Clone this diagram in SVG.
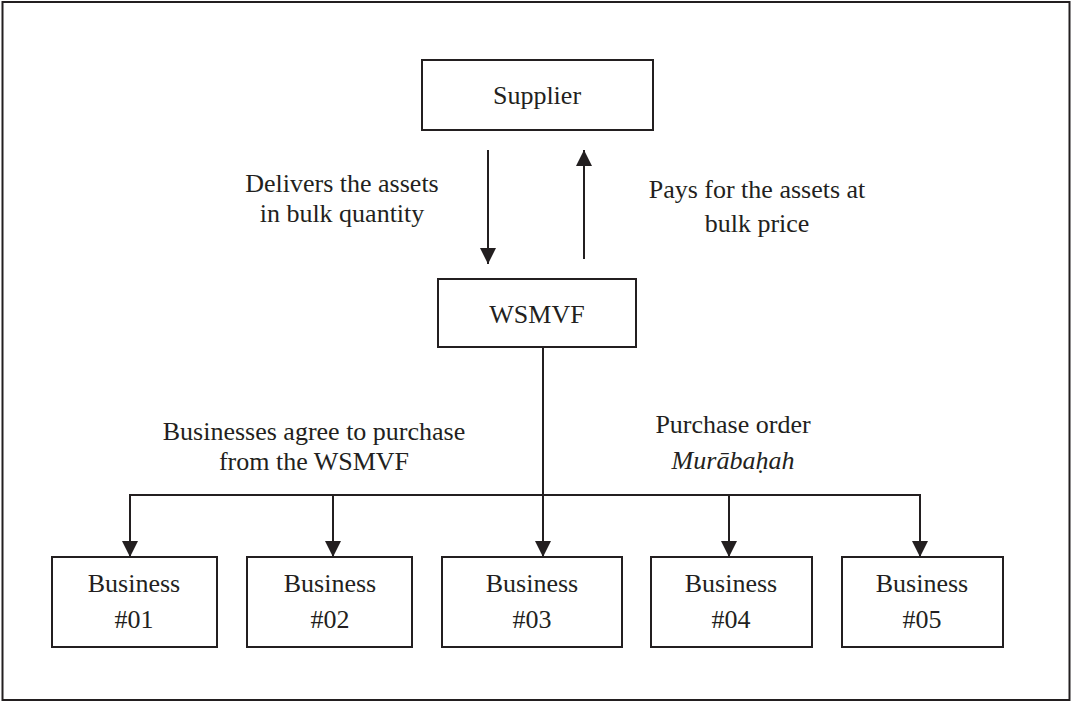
<svg xmlns="http://www.w3.org/2000/svg" width="1072" height="703" viewBox="0 0 1072 703">
  <style>
    .box { fill: #ffffff; stroke: #231f20; stroke-width: 2; }
    .frame { fill: #ffffff; stroke: #231f20; stroke-width: 2; }
    .wire { fill: none; stroke: #231f20; stroke-width: 2; }
    text { font-family: "Liberation Serif", "Times New Roman", serif; font-size: 26px; fill: #231f20; text-anchor: middle; }
    .it { font-style: italic; }
  </style>
  <defs>
    <marker id="head" viewBox="0 0 16 16" refX="16" refY="8" markerWidth="16" markerHeight="16" markerUnits="userSpaceOnUse" orient="auto">
      <path d="M0,0 L16,8 L0,16 Z" fill="#231f20"/>
    </marker>
  </defs>

  <!-- outer border -->
  <rect class="frame" x="2.5" y="2" width="1067" height="698"/>

  <!-- connectors -->
  <g id="connectors">
    <line class="wire" x1="488" y1="150" x2="488" y2="264" marker-end="url(#head)"/>
    <line class="wire" x1="584" y1="259" x2="584" y2="150" marker-end="url(#head)"/>
    <line class="wire" x1="543" y1="347" x2="543" y2="557" marker-end="url(#head)"/>
    <line class="wire" x1="129" y1="495" x2="921" y2="495"/>
    <line class="wire" x1="130" y1="495" x2="130" y2="557" marker-end="url(#head)"/>
    <line class="wire" x1="333" y1="495" x2="333" y2="557" marker-end="url(#head)"/>
    <line class="wire" x1="729" y1="495" x2="729" y2="557" marker-end="url(#head)"/>
    <line class="wire" x1="920" y1="495" x2="920" y2="557" marker-end="url(#head)"/>
  </g>

  <!-- connector labels -->
  <g id="labels">
    <text x="342" y="192">Delivers the assets</text>
    <text x="342" y="222">in bulk quantity</text>
    <text x="757" y="198">Pays for the assets at</text>
    <text x="757" y="232">bulk price</text>
    <text x="314" y="440">Businesses agree to purchase</text>
    <text x="314" y="470">from the WSMVF</text>
    <text x="733" y="433">Purchase order</text>
    <text class="it" x="733" y="469">Murābaḥah</text>
  </g>

  <g id="supplier">
    <rect class="box" x="422" y="60" width="231" height="70"/>
    <text x="537" y="104">Supplier</text>
  </g>

  <g id="wsmvf">
    <rect class="box" x="438" y="279" width="198" height="68"/>
    <text x="537" y="323">WSMVF</text>
  </g>

  <g id="business01">
    <rect class="box" x="52" y="557" width="165" height="90"/>
    <text x="134" y="592">Business</text>
    <text x="134" y="628">#01</text>
  </g>

  <g id="business02">
    <rect class="box" x="247" y="557" width="165" height="90"/>
    <text x="330" y="592">Business</text>
    <text x="330" y="628">#02</text>
  </g>

  <g id="business03">
    <rect class="box" x="442" y="557" width="180" height="90"/>
    <text x="532" y="592">Business</text>
    <text x="532" y="628">#03</text>
  </g>

  <g id="business04">
    <rect class="box" x="651" y="557" width="161" height="90"/>
    <text x="731" y="592">Business</text>
    <text x="731" y="628">#04</text>
  </g>

  <g id="business05">
    <rect class="box" x="842" y="557" width="161" height="90"/>
    <text x="922" y="592">Business</text>
    <text x="922" y="628">#05</text>
  </g>
</svg>
